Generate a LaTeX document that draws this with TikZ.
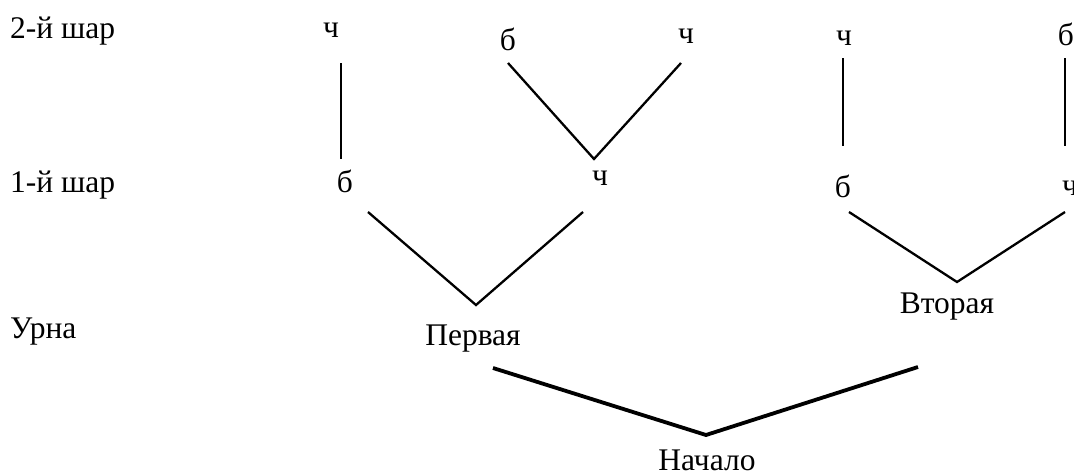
\documentclass[tikz,border=0pt]{standalone}
\usepackage{fontspec}
\setmainfont{Liberation Serif}
\begin{document}
\begin{tikzpicture}[x=1pt,y=-1pt,
  lbl/.style={anchor=base, inner sep=0pt, font=\fontsize{31.5}{38}\selectfont},
  rowlbl/.style={lbl, anchor=base west},
  branch/.style={line width=2.3pt},
  trunk/.style={line width=3.8pt}]
\useasboundingbox (0,0) rectangle (1074,474);

% row captions
\node[rowlbl] (r2) at (10,38) {2-й шар};
\node[rowlbl] (r1) at (10,192) {1-й шар};
\node[rowlbl] (ru) at (10,338) {Урна};

% second ball
\node[lbl] (s1) at (331,37) {ч};
\node[lbl] (s2) at (508,50) {б};
\node[lbl] (s3) at (686,43) {ч};
\node[lbl] (s4) at (844,45) {ч};
\node[lbl] (s5) at (1066,45) {б};

% first ball
\node[lbl] (f1) at (345,192) {б};
\node[lbl] (f2) at (600,185) {ч};
\node[lbl] (f3) at (843,197) {б};
\node[lbl] (f4) at (1070,195) {ч};

% urns and root
\node[lbl] (u1) at (473,345) {Первая};
\node[lbl] (u2) at (947,313) {Вторая};
\node[lbl] (root) at (707,470) {Начало};

% branch end points
\coordinate (s1b) at (341,63);   \coordinate (f1t) at (341,159);
\coordinate (s2b) at (508,63);   \coordinate (f2t) at (594,159);
\coordinate (s3b) at (681,63);
\coordinate (s4b) at (843,58);   \coordinate (f3t) at (843,146);
\coordinate (s5b) at (1065,58);  \coordinate (f4t) at (1065,146);
\coordinate (f1b) at (368,212);  \coordinate (u1t) at (476,305);
\coordinate (f2b) at (583,212);
\coordinate (f3b) at (849,212);  \coordinate (u2t) at (957,282);
\coordinate (f4b) at (1065,212);
\coordinate (u1b) at (493,368);  \coordinate (roott) at (706,435);
\coordinate (u2b) at (918,367);

% branches
\draw[branch] (s1b) -- (f1t);
\draw[branch] (s2b) -- (f2t) -- (s3b);
\draw[branch] (s4b) -- (f3t);
\draw[branch] (s5b) -- (f4t);
\draw[branch] (f1b) -- (u1t) -- (f2b);
\draw[branch] (f3b) -- (u2t) -- (f4b);
\draw[trunk] (u1b) -- (roott) -- (u2b);
\end{tikzpicture}
\end{document}
